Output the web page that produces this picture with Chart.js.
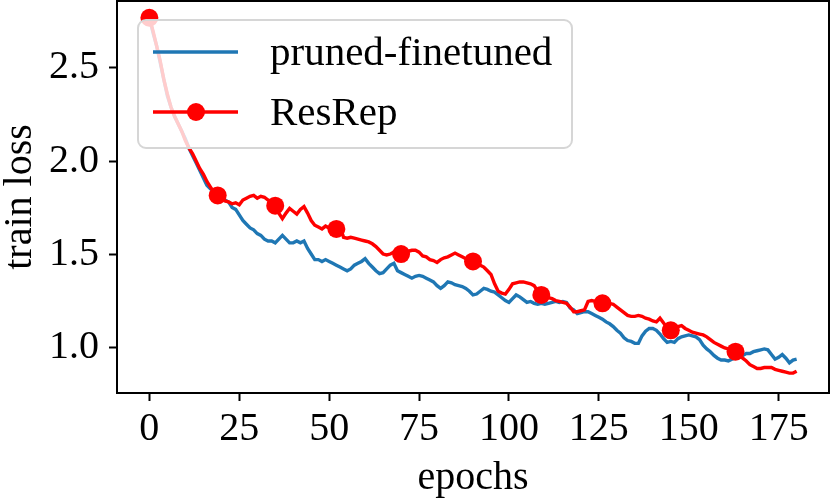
<!DOCTYPE html>
<html lang="en">

<head>
    <meta charset="UTF-8">
    <title>train loss</title>
    <script src="https://cdn.jsdelivr.net/npm/chart.js"></script>
    <style>
        body {
            margin: 0;
            background: #ffffff;
        }

        #wrap {
            width: 830px;
            height: 498px;
            position: relative;
        }
    </style>
</head>

<body>
    <div id="wrap"><canvas id="lossChart"></canvas></div>

    <script>
        // train loss per epoch
        const prunedLoss = [
            2.77, 2.69, 2.62, 2.53, 2.44, 2.35, 2.29, 2.24, 2.20, 2.16,
            2.12, 2.07, 2.03, 1.99, 1.95, 1.91, 1.87, 1.85, 1.84, 1.84,
            1.81, 1.79, 1.78, 1.75, 1.74, 1.71, 1.68, 1.66, 1.64, 1.63,
            1.61, 1.60, 1.58, 1.57, 1.57, 1.56, 1.58, 1.60, 1.58, 1.56,
            1.56, 1.57, 1.56, 1.57, 1.53, 1.50, 1.47, 1.47, 1.46, 1.47,
            1.46, 1.45, 1.44, 1.43, 1.42, 1.41, 1.42, 1.44, 1.45, 1.46,
            1.475, 1.45, 1.43, 1.41, 1.395, 1.40, 1.42, 1.44, 1.45, 1.41,
            1.40, 1.39, 1.38, 1.37, 1.38, 1.385, 1.38, 1.37, 1.36, 1.35,
            1.33, 1.315, 1.33, 1.35, 1.345, 1.335, 1.33, 1.325, 1.315, 1.30,
            1.28, 1.285, 1.30, 1.315, 1.31, 1.30, 1.295, 1.28, 1.265, 1.25,
            1.24, 1.26, 1.28, 1.27, 1.255, 1.24, 1.245, 1.235, 1.23, 1.235,
            1.23, 1.235, 1.24, 1.245, 1.24, 1.245, 1.24, 1.21, 1.20, 1.18,
            1.185, 1.19, 1.19, 1.18, 1.17, 1.16, 1.15, 1.135, 1.125, 1.11,
            1.09, 1.075, 1.05, 1.035, 1.03, 1.02, 1.02, 1.06, 1.085, 1.10,
            1.10, 1.09, 1.07, 1.045, 1.025, 1.03, 1.025, 1.045, 1.055, 1.06,
            1.065, 1.06, 1.055, 1.04, 1.01, 0.99, 0.975, 0.955, 0.94, 0.93,
            0.93, 0.925, 0.935, 0.94, 0.945, 0.955, 0.965, 0.965, 0.975, 0.98,
            0.985, 0.99, 0.985, 0.96, 0.935, 0.945, 0.96, 0.94, 0.915, 0.93,
            0.935
        ];

        const resrepLoss = [
            2.77, 2.70, 2.62, 2.54, 2.44, 2.36, 2.29, 2.24, 2.20, 2.16,
            2.11, 2.07, 2.04, 2.00, 1.96, 1.93, 1.89, 1.86, 1.83, 1.815,
            1.80, 1.785, 1.78, 1.77, 1.775, 1.765, 1.79, 1.80, 1.81, 1.815,
            1.80, 1.81, 1.805, 1.79, 1.78, 1.76, 1.72, 1.69, 1.72, 1.745,
            1.73, 1.715, 1.74, 1.755, 1.72, 1.68, 1.655, 1.645, 1.635, 1.65,
            1.64, 1.625, 1.635, 1.65, 1.59, 1.585, 1.59, 1.585, 1.58, 1.575,
            1.57, 1.565, 1.555, 1.54, 1.52, 1.50, 1.495, 1.50, 1.51, 1.505,
            1.50, 1.51, 1.515, 1.52, 1.52, 1.51, 1.49, 1.485, 1.47, 1.465,
            1.455, 1.47, 1.48, 1.485, 1.495, 1.505, 1.495, 1.485, 1.475, 1.47,
            1.46, 1.45, 1.44, 1.43, 1.41, 1.39, 1.34, 1.30, 1.29, 1.285,
            1.31, 1.34, 1.345, 1.35, 1.35, 1.345, 1.34, 1.33, 1.30, 1.28,
            1.275, 1.265, 1.26, 1.25, 1.245, 1.24, 1.235, 1.215, 1.19, 1.19,
            1.195, 1.20, 1.245, 1.25, 1.245, 1.24, 1.235, 1.235, 1.235, 1.23,
            1.215, 1.20, 1.185, 1.17, 1.165, 1.165, 1.17, 1.165, 1.155, 1.15,
            1.14, 1.135, 1.155, 1.13, 1.10, 1.09, 1.10, 1.11, 1.115, 1.10,
            1.09, 1.08, 1.075, 1.07, 1.065, 1.055, 1.04, 1.025, 1.015, 1.005,
            0.995, 0.99, 0.98, 0.975, 0.96, 0.94, 0.925, 0.905, 0.895, 0.885,
            0.885, 0.89, 0.89, 0.89, 0.88, 0.875, 0.87, 0.865, 0.86, 0.86,
            0.87
        ];

        // epochs where the ResRep curve carries a marker
        const resrepMarkers = [0, 19, 35, 52, 70, 90, 109, 126, 145, 163];

        const seriesNames = ["pruned-finetuned", "ResRep"];
        const xTicks = [0, 25, 50, 75, 100, 125, 150, 175];
        const yTicks = [1.0, 1.5, 2.0, 2.5];

        const blue = "#1f77b4";
        const red = "#ff0000";
        const serif = "'Liberation Serif', 'Times New Roman', serif";

        const toPoints = values => values.map((v, i) => ({ x: i, y: v }));

        // frame around the plot plus a matplotlib-like legend inside it
        const framePlugin = {
            id: "frame",
            afterDatasetsDraw(chart) {
                const ctx = chart.ctx;
                const a = chart.chartArea;

                // legend box
                ctx.save();
                ctx.beginPath();
                ctx.roundRect(138, 20, 434, 128, 8);
                ctx.fillStyle = "rgba(255, 255, 255, 0.8)";
                ctx.fill();
                ctx.lineWidth = 2;
                ctx.strokeStyle = "#d6d6d6";
                ctx.stroke();

                const rows = [52, 112];
                const colors = [blue, red];
                rows.forEach((y, i) => {
                    ctx.beginPath();
                    ctx.moveTo(153, y);
                    ctx.lineTo(238, y);
                    ctx.lineWidth = 3.4;
                    ctx.strokeStyle = colors[i];
                    ctx.stroke();
                    if (i === 1) {
                        ctx.beginPath();
                        ctx.arc(196, y, 9, 0, Math.PI * 2);
                        ctx.fillStyle = red;
                        ctx.fill();
                    }
                    ctx.fillStyle = "#000";
                    ctx.font = "41px " + serif;
                    ctx.textBaseline = "middle";
                    ctx.textAlign = "left";
                    ctx.fillText(seriesNames[i], 270, y + 2);
                });

                // spines
                ctx.lineWidth = 2;
                ctx.strokeStyle = "#000";
                ctx.strokeRect(a.left, a.top, a.right - a.left, a.bottom - a.top);
                ctx.restore();
            }
        };

        const lossCtx = document.getElementById("lossChart").getContext("2d");
        new Chart(lossCtx, {
            type: "line",
            data: {
                datasets: [{
                    label: seriesNames[1],
                    data: toPoints(resrepLoss),
                    borderColor: red,
                    backgroundColor: red,
                    borderWidth: 3.4,
                    pointRadius: c => resrepMarkers.includes(c.dataIndex) ? 9 : 0,
                    pointBorderWidth: 0,
                    pointBackgroundColor: red,
                    order: 0
                }, {
                    label: seriesNames[0],
                    data: toPoints(prunedLoss),
                    borderColor: blue,
                    backgroundColor: blue,
                    borderWidth: 3.4,
                    pointRadius: 0,
                    order: 1
                }]
            },
            options: {
                responsive: true,
                maintainAspectRatio: false,
                animation: false,
                events: [],
                layout: {
                    autoPadding: false,
                    padding: { top: 1, right: 1, left: 0, bottom: 0 }
                },
                elements: {
                    line: { tension: 0 }
                },
                plugins: {
                    legend: { display: false },
                    tooltip: { enabled: false }
                },
                scales: {
                    x: {
                        type: "linear",
                        min: -9,
                        max: 189,
                        afterBuildTicks: s => { s.ticks = xTicks.map(v => ({ value: v })); },
                        afterFit: s => {
                            s.height = 105;
                            s.paddingLeft = 0;
                            s.paddingRight = 0;
                        },
                        grid: {
                            drawOnChartArea: false,
                            tickLength: 8,
                            tickWidth: 2,
                            tickColor: "#000"
                        },
                        border: { display: false },
                        ticks: {
                            color: "#000",
                            padding: 4,
                            maxRotation: 0,
                            font: { family: serif, size: 40 }
                        },
                        title: {
                            display: true,
                            text: "epochs",
                            color: "#000",
                            padding: 0,
                            font: { family: serif, size: 40, lineHeight: 1 }
                        }
                    },
                    y: {
                        min: 0.753,
                        max: 2.86,
                        afterBuildTicks: s => { s.ticks = yTicks.map(v => ({ value: v })); },
                        afterFit: s => {
                            s.width = 117;
                            s.paddingTop = 0;
                            s.paddingBottom = 0;
                        },
                        grid: {
                            drawOnChartArea: false,
                            tickLength: 8,
                            tickWidth: 2,
                            tickColor: "#000"
                        },
                        border: { display: false },
                        ticks: {
                            color: "#000",
                            padding: 10,
                            font: { family: serif, size: 40 },
                            callback: v => v.toFixed(1)
                        },
                        title: {
                            display: true,
                            text: "train loss",
                            color: "#000",
                            padding: 0,
                            font: { family: serif, size: 40, lineHeight: 1 }
                        }
                    }
                }
            },
            plugins: [framePlugin]
        });
    </script>
</body>

</html>
